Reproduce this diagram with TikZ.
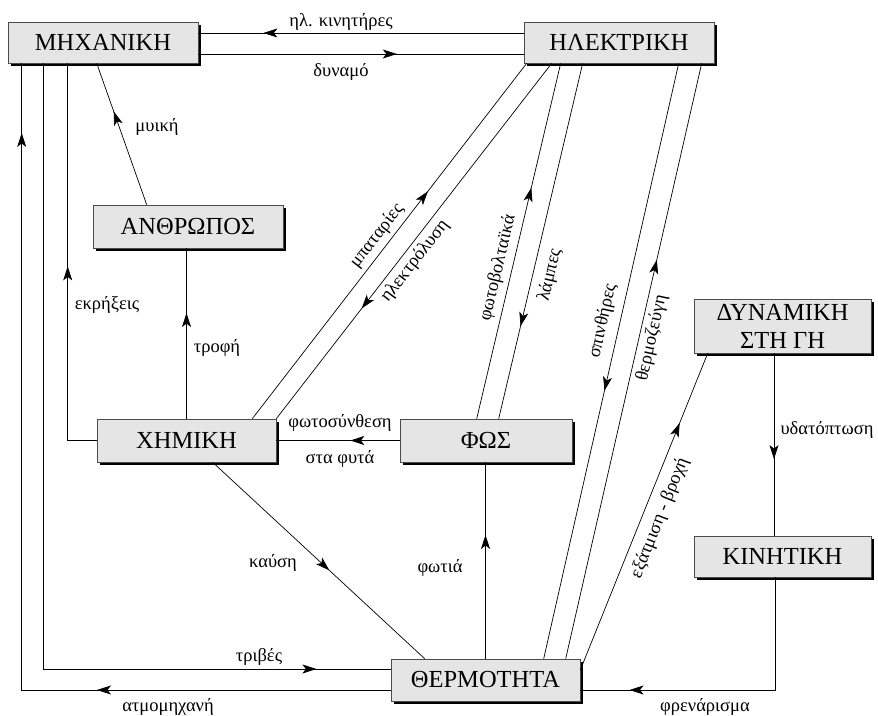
\documentclass[tikz,border=0pt]{standalone}
\usepackage{fontspec}
\setmainfont{Liberation Serif}
\usetikzlibrary{arrows.meta,decorations.markings,shadows,calc}
\tikzset{
  box/.style={draw=black!70, fill=black!10, line width=0.6pt, inner sep=0pt, align=center,
    font=\fontsize{24.5}{28}\selectfont,
    drop shadow={shadow xshift=3pt, shadow yshift=-3pt, opacity=1, fill=black}},
  lbl/.style={font=\fontsize{18.5}{20}\selectfont, inner sep=0pt},
  conn/.style={line width=0.7pt},
  arrowat/.style={postaction={decorate,decoration={markings,
    mark=at position #1 with {\arrow{Stealth[length=14pt,width=9pt,inset=3.5pt]}}}}},
}
\begin{document}
\begin{tikzpicture}[x=1pt,y=1pt]
\useasboundingbox (0,0) rectangle (878,715);
% boxes
\node[box,minimum width=190pt,minimum height=41pt] (mech) at (103,672.5) {ΜΗΧΑΝΙΚΗ};
\node[box,minimum width=190pt,minimum height=41pt] (elec) at (619,672.5) {ΗΛΕΚΤΡΙΚΗ};
\node[box,minimum width=190pt,minimum height=43pt] (anth) at (188,488.5) {ΑΝΘΡΩΠΟΣ};
\node[box,minimum width=179pt,minimum height=43pt] (chem) at (186.5,274.5) {ΧΗΜΙΚΗ};
\node[box,minimum width=172pt,minimum height=43pt] (light) at (486,274.5) {ΦΩΣ};
\node[box,minimum width=177pt,minimum height=54pt] (pot) at (782.5,389) {ΔΥΝΑΜΙΚΗ\\ΣΤΗ ΓΗ};
\node[box,minimum width=177pt,minimum height=41pt] (kin) at (782.5,158.5) {ΚΙΝΗΤΙΚΗ};
\node[box,minimum width=189pt,minimum height=42pt] (heat) at (485.5,35) {ΘΕΡΜΟΤΗΤΑ};
% connectors
\draw[conn,arrowat=0.80] ([yshift=9.5pt]elec.west) -- ([yshift=9.5pt]mech.east);
\draw[conn,arrowat=0.61] ([yshift=-11.5pt]mech.east) -- ([yshift=-11.5pt]elec.west);
\draw[conn,arrowat=0.295,arrowat=0.93] ([yshift=-10pt]heat.west) -| ([xshift=14pt]mech.south west);
\draw[conn,arrowat=0.922] ([xshift=36pt]mech.south west) |- ([yshift=11pt]heat.west);
\draw[conn,arrowat=0.5] (chem.west) -| ([xshift=60pt]mech.south west);
\draw[conn,arrowat=0.66] ([xshift=54pt]anth.north west) -- ([xshift=89pt]mech.south west);
\draw[conn,arrowat=0.62] (chem.north) -- (chem.north |- anth.south);
\draw[conn,arrowat=0.40] (light.west) -- (chem.east);
\draw[conn,arrowat=0.64] ([xshift=-24pt]chem.north east) -- ([xshift=3pt]elec.south west);
\draw[conn,arrowat=0.69] ([xshift=28pt]elec.south west) -- (chem.north east);
\draw[conn,arrowat=0.65] ([xshift=77pt]light.north west) -- ([xshift=37pt]elec.south west);
\draw[conn,arrowat=0.74] ([xshift=59pt]elec.south west) -- ([xshift=99pt]light.north west);
\draw[conn,arrowat=0.55] ([xshift=155pt]elec.south west) -- ([xshift=153pt]heat.north west);
\draw[conn,arrowat=0.67] ([xshift=175pt]heat.north west) -- ([xshift=178pt]elec.south west);
\draw[conn,arrowat=0.78] ([yshift=10pt]heat.east) -- ([xshift=14pt]pot.south west);
\draw[conn,arrowat=0.58] ([xshift=-8.5pt]pot.south) -- ([xshift=-8.5pt]kin.north);
\draw[conn,arrowat=0.84] ([xshift=-7.5pt]kin.south) |- ([yshift=-10pt]heat.east);
\draw[conn,arrowat=0.63] (heat.north) -- (heat.north |- light.south);
\draw[conn,arrowat=0.55] ([xshift=116pt]chem.south west) -- ([xshift=34pt]heat.north west);
% labels
\node[lbl] (t1) at (341,693) {ηλ. κινητήρες};
\node[lbl] (t2) at (341,643) {δυναμό};
\node[lbl] (t3) at (168,8) {ατμομηχανή};
\node[lbl] (t4) at (259,58) {τριβές};
\node[lbl] (t5) at (107,410) {εκρήξεις};
\node[lbl] (t6) at (157,588) {μυική};
\node[lbl] (t7) at (217,367) {τροφή};
\node[lbl] (t8) at (340,292) {φωτοσύνθεση};
\node[lbl] (t9) at (340,256) {στα φυτά};
\node[lbl,rotate=52] (t10) at (377,479) {μπαταρίες};
\node[lbl,rotate=52] (t11) at (415,454) {ηλεκτρόλυση};
\node[lbl,rotate=76.6] (t12) at (498,447) {φωτοβολταϊκά};
\node[lbl,rotate=76.6] (t13) at (550,440) {λάμπες};
\node[lbl,rotate=77.2] (t14) at (603,394) {σπινθήρες};
\node[lbl,rotate=77.2] (t15) at (652,377) {θερμοζεύγη};
\node[lbl,rotate=68.2] (t16) at (660,197) {εξάτμιση - βροχή};
\node[lbl] (t17) at (827,285) {υδατόπτωση};
\node[lbl] (t18) at (705,8) {φρενάρισμα};
\node[lbl] (t19) at (440,147) {φωτιά};
\node[lbl] (t20) at (273,152) {καύση};
\end{tikzpicture}
\end{document}
